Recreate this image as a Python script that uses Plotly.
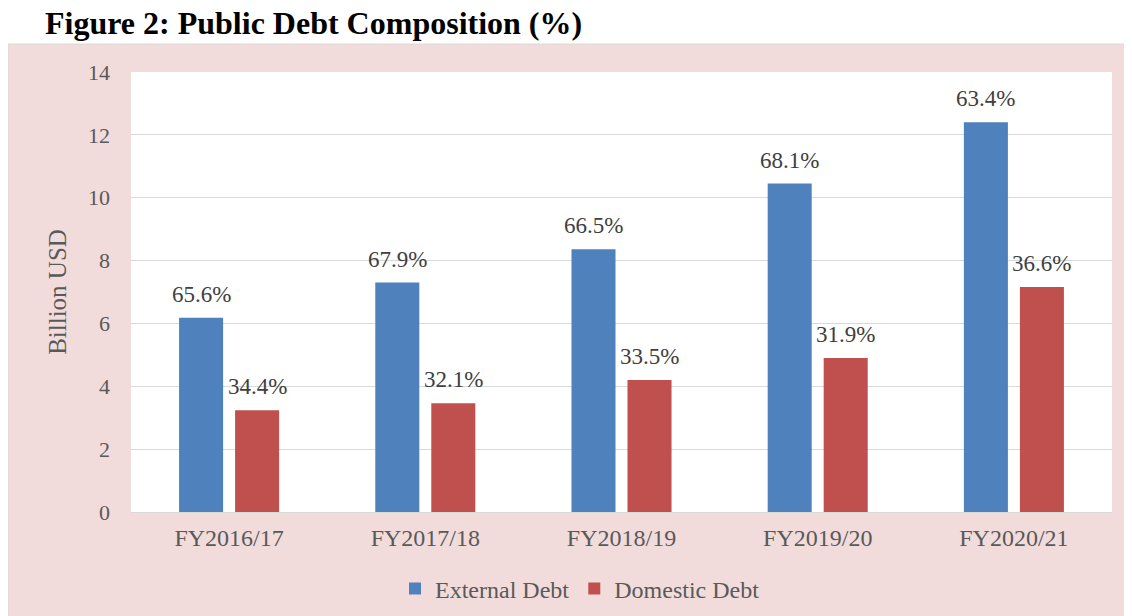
import plotly.graph_objects as go

categories = ["FY2016/17", "FY2017/18", "FY2018/19", "FY2019/20", "FY2020/21"]
external_debt = [6.18, 7.30, 8.36, 10.45, 12.40]
domestic_debt = [3.24, 3.46, 4.20, 4.90, 7.16]
external_share = ["65.6%", "67.9%", "66.5%", "68.1%", "63.4%"]
domestic_share = ["34.4%", "32.1%", "33.5%", "31.9%", "36.6%"]
y_ticks = [0, 2, 4, 6, 8, 10, 12, 14]

SERIF = "Liberation Serif, Times New Roman, serif"
BLUE = "#4f81bd"
RED = "#c0504d"

fig = go.Figure()
fig.add_trace(go.Bar(
    name="External Debt", x=categories, y=external_debt,
    marker=dict(color=BLUE, line=dict(width=0)),
))
fig.add_trace(go.Bar(
    name="Domestic Debt", x=categories, y=domestic_debt,
    marker=dict(color=RED, line=dict(width=0)),
))

annotations = []
for cat, val, txt in zip(categories, external_debt, external_share):
    annotations.append(dict(x=cat, y=val, text=txt, xref="x", yref="y",
                            showarrow=False, xanchor="center", yanchor="bottom",
                            xshift=-28, yshift=9,
                            font=dict(family=SERIF, size=23, color="#404040")))
for cat, val, txt in zip(categories, domestic_debt, domestic_share):
    annotations.append(dict(x=cat, y=val, text=txt, xref="x", yref="y",
                            showarrow=False, xanchor="center", yanchor="bottom",
                            xshift=28, yshift=9,
                            font=dict(family=SERIF, size=23, color="#404040")))

fig.update_layout(
    width=1132, height=616,
    margin=dict(l=123, r=28, t=64, b=112),
    paper_bgcolor="white",
    plot_bgcolor="white",
    barmode="group",
    bargap=0.429,
    bargroupgap=0.214,
    font=dict(family=SERIF, color="#595959"),
    title=dict(
        text="<b>Figure 2: Public Debt Composition (%)</b>",
        font=dict(family=SERIF, size=32, color="black"),
        xref="container", yref="container",
        x=37 / 1132, xanchor="left",
        y=1 - 4 / 616, yanchor="top",
        pad=dict(t=0, b=0, l=0, r=0),
    ),
    legend=dict(
        orientation="h",
        x=0.4577, xanchor="center",
        y=-0.175, yanchor="middle",
        font=dict(family=SERIF, size=24, color="#595959"),
        bgcolor="rgba(0,0,0,0)",
        itemwidth=30,
        traceorder="normal",
    ),
    showlegend=True,
    annotations=annotations,
    shapes=[
        dict(
            type="rect", xref="paper", yref="paper",
            x0=-0.1254, x1=1.05, y0=-0.3, y1=1.0636,
            fillcolor="#f2dcdb", line=dict(color="#d9d9d9", width=1),
            layer="below",
        ),
        dict(
            type="rect", xref="paper", yref="paper",
            x0=0, x1=1, y0=0, y1=1,
            fillcolor="white", line=dict(width=0),
            layer="below",
        ),
    ],
)

fig.update_xaxes(
    showgrid=False,
    showline=True, linecolor="#d9d9d9", linewidth=1,
    ticks="", ticklabelstandoff=4,
    tickfont=dict(family=SERIF, size=24, color="#595959"),
)
fig.update_yaxes(
    range=[0, 14],
    tickvals=y_ticks,
    showgrid=True, gridcolor="#d9d9d9", gridwidth=1,
    zeroline=False,
    showline=False,
    ticks="", ticklabelstandoff=20,
    tickfont=dict(family=SERIF, size=22, color="#595959"),
    title=dict(text="Billion USD", font=dict(family=SERIF, size=25, color="#595959"), standoff=14),
)

fig.write_html("out.html")
